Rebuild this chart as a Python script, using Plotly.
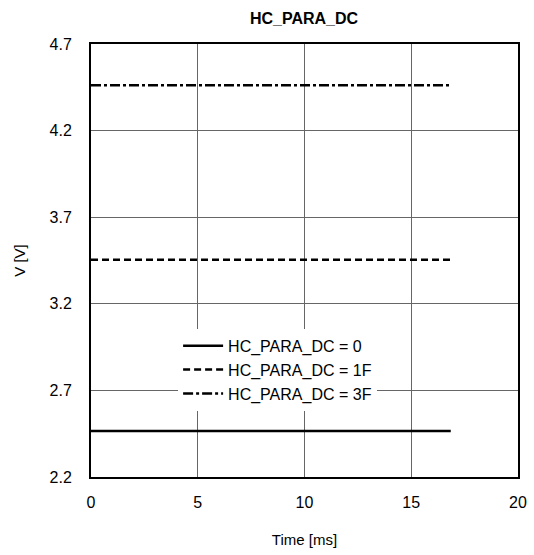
import plotly.graph_objects as go

series_names = ["HC_PARA_DC = 0", "HC_PARA_DC = 1F", "HC_PARA_DC = 3F"]
time_ms = [0, 16.85]
v_values = [[2.466, 2.466], [3.455, 3.455], [4.462, 4.462]]
dash_styles = ["solid", "7px,4px", "10px,3px,3px,3px"]
x_ticks = [0, 5, 10, 15, 20]
y_ticks = [2.2, 2.7, 3.2, 3.7, 4.2, 4.7]

fig = go.Figure()
for name, vals, d in zip(series_names, v_values, dash_styles):
    fig.add_trace(go.Scatter(x=time_ms, y=vals, mode="lines", name=name,
                             line=dict(color="black", width=2.5, dash=d)))

axis_common = dict(showgrid=True, gridcolor="#666", gridwidth=1, zeroline=False,
                   showline=True, linecolor="black", linewidth=2, mirror=True,
                   ticks="", tickfont=dict(size=16, color="black"),
                   title_font=dict(size=15, color="black"), automargin=False)
fig.update_xaxes(range=[0, 20], tickvals=x_ticks, title_text="Time [ms]",
                 ticklabelstandoff=10, title_standoff=24, **axis_common)
fig.update_yaxes(range=[2.2, 4.7], tickvals=y_ticks, ticktext=[f"{t:.1f}" for t in y_ticks],
                 ticklabelstandoff=14, title_text="V [V]", title_standoff=20, **axis_common)

fig.update_layout(
    width=534, height=555,
    font=dict(family="Liberation Sans, Arial, sans-serif", color="black"),
    title=dict(text="<b>HC_PARA_DC</b>", x=304 / 534, xanchor="center",
               y=1 - 18 / 555, yanchor="middle",
               font=dict(size=16, color="black")),
    plot_bgcolor="white", paper_bgcolor="white",
    margin=dict(l=91, r=16, t=44, b=78),
    legend=dict(x=0.204, y=0.342, xanchor="left", yanchor="top",
                bgcolor="white", font=dict(size=16, color="black"),
                tracegroupgap=0, itemwidth=40),
    showlegend=True,
)

fig.write_html("out.html", config={"displayModeBar": False},
               post_script="document.body.style.margin='0';")
